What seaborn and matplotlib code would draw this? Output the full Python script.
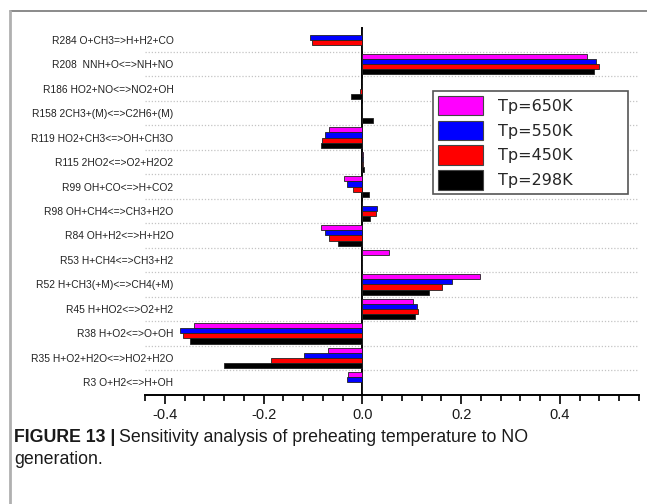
import matplotlib
matplotlib.use("Agg")
import matplotlib.pyplot as plt
from matplotlib.patches import Patch
from matplotlib.lines import Line2D
import numpy as np
import pandas as pd
import seaborn as sns

# ---------------- data ----------------
reactions = [
    "R284 O+CH3=>H+H2+CO",
    "R208  NNH+O<=>NH+NO",
    "R186 HO2+NO<=>NO2+OH",
    "R158 2CH3+(M)<=>C2H6+(M)",
    "R119 HO2+CH3<=>OH+CH3O",
    "R115 2HO2<=>O2+H2O2",
    "R99 OH+CO<=>H+CO2",
    "R98 OH+CH4<=>CH3+H2O",
    "R84 OH+H2<=>H+H2O",
    "R53 H+CH4<=>CH3+H2",
    "R52 H+CH3(+M)<=>CH4(+M)",
    "R45 H+HO2<=>O2+H2",
    "R38 H+O2<=>O+OH",
    "R35 H+O2+H2O<=>HO2+H2O",
    "R3 O+H2<=>H+OH",
]
series_names = ["Tp=650K", "Tp=550K", "Tp=450K", "Tp=298K"]
tp650 = [0.0, 0.454, 0.0, 0.0, -0.067, 0.002, -0.038, 0.0, -0.084, 0.053, 0.239, 0.103, -0.340, -0.069, -0.030]
tp550 = [-0.106, 0.472, 0.0, 0.0, -0.076, 0.002, -0.032, 0.030, -0.075, 0.0, 0.181, 0.110, -0.369, -0.119, -0.032]
tp450 = [-0.101, 0.480, -0.004, 0.0, -0.082, 0.002, -0.019, 0.028, -0.067, 0.0, 0.162, 0.113, -0.364, -0.185, 0.0]
tp298 = [0.0, 0.468, -0.024, 0.021, -0.084, 0.004, 0.014, 0.016, -0.049, 0.0, 0.134, 0.107, -0.348, -0.281, 0.0]
colors = ["#ff00ff", "#0000ff", "#ff0000", "#000000"]
xtick_vals = [-0.4, -0.2, 0.0, 0.2, 0.4]
xtick_labels = ["-0.4", "-0.2", "0.0", "0.2", "0.4"]

df = pd.DataFrame({
    "reaction": reactions * 4,
    "value": tp650 + tp550 + tp450 + tp298,
    "series": [s for s in series_names for _ in reactions],
})

# ---------------- figure ----------------
sns.set_theme(style="white")
plt.rcParams["font.family"] = ["Liberation Sans", "DejaVu Sans"]
plt.rcParams["axes.unicode_minus"] = False

W, H = 647, 504
fig = plt.figure(figsize=(W / 100, H / 100), dpi=100)
ax = fig.add_axes([145 / W, 1 - 394.5 / H, (639 - 145) / W, (394.5 - 27.5) / H])

sns.barplot(data=df, x="value", y="reaction", hue="series", order=reactions,
            hue_order=series_names, palette=colors, orient="h", width=0.84,
            saturation=1, edgecolor="#222222", linewidth=0.6, legend=False,
            errorbar=None, ax=ax, zorder=3)

n = len(reactions)
ax.set_xlim(-0.44, 0.56)
ax.set_ylim(n - 0.5, -0.5)
ax.set_xlabel("")
ax.set_ylabel("")

# spines
for s in ["top", "right"]:
    ax.spines[s].set_visible(False)
ax.spines["left"].set_position(("data", 0))
ax.spines["left"].set_color("black")
ax.spines["left"].set_linewidth(1.4)
ax.spines["bottom"].set_color("black")
ax.spines["bottom"].set_linewidth(1.4)

# y ticks: labels at centres, ticks at boundaries
ax.set_yticks(range(n))
ax.set_yticklabels(reactions, fontsize=7.4, color="#222222")
ax.tick_params(axis="y", which="major", length=0, pad=136)
ax.set_yticks(np.arange(-0.5, n - 0.5, 1.0), minor=True)
ax.tick_params(axis="y", which="minor", direction="inout", length=5, width=1.2, color="black")

# x ticks
ax.set_xticks(xtick_vals)
ax.set_xticklabels(xtick_labels, fontsize=10.5, color="#1a1a1a")
ax.set_xticks(np.arange(-0.44, 0.5601, 0.04), minor=True)
ax.tick_params(axis="x", which="major", direction="out", length=6.5, width=1.2, pad=3, color="black")
ax.tick_params(axis="x", which="minor", direction="out", length=4, width=1.2, color="black")
ax.tick_params(axis="x", which="both", bottom=True)

# dotted separators
for b in np.arange(0.5, n - 1, 1.0):
    ax.axhline(b, color="#c4c4c4", linestyle=(0, (1, 1.5)), linewidth=0.9, zorder=0)

# legend
handles = [Patch(facecolor=c, edgecolor="#444444", linewidth=0.8) for c in colors]
leg = ax.legend(handles, series_names, loc="upper left",
                bbox_to_anchor=(433 / W, 1 - 91 / H - 0.01, (628 - 433) / W, 0.01),
                bbox_transform=fig.transFigure, mode="expand", borderaxespad=0,
                frameon=True, fancybox=False, framealpha=1, edgecolor="#555555",
                prop={"family": "DejaVu Sans", "size": 11.5},
                handlelength=2.85, handleheight=1.5, handletextpad=0.9,
                labelspacing=0.33, borderpad=0.3)
leg.get_frame().set_linewidth(1.2)
leg.set_zorder(5)

# outer frame lines
fig.add_artist(Line2D([9.5 / W, 1.0], [1 - 10.5 / H, 1 - 10.5 / H], transform=fig.transFigure,
                      color="#777777", linewidth=1.2))
fig.add_artist(Line2D([9.5 / W, 9.5 / W], [1 - 10.5 / H, 0.0], transform=fig.transFigure,
                      color="#b0b0b0", linewidth=2.0))

# caption
cap_family = ["Liberation Sans Narrow", "Liberation Sans", "DejaVu Sans"]
t1 = fig.text(14 / W, 1 - 437 / H, "FIGURE 13 |", fontsize=12.8, fontweight="bold",
              family=cap_family, color="#1a1a1a", va="center", ha="left")
fig.canvas.draw()
r = fig.canvas.get_renderer()
bb = t1.get_window_extent(r)
fig.text((bb.x1 + 4) / W, 1 - 437 / H, "Sensitivity analysis of preheating temperature to NO",
         fontsize=12.8, family=cap_family, color="#1a1a1a", va="center", ha="left")
fig.text(14 / W, 1 - 460 / H, "generation.", fontsize=12.8, family=cap_family,
         color="#1a1a1a", va="center", ha="left")

fig.savefig("out.png", dpi=100, facecolor="white")
